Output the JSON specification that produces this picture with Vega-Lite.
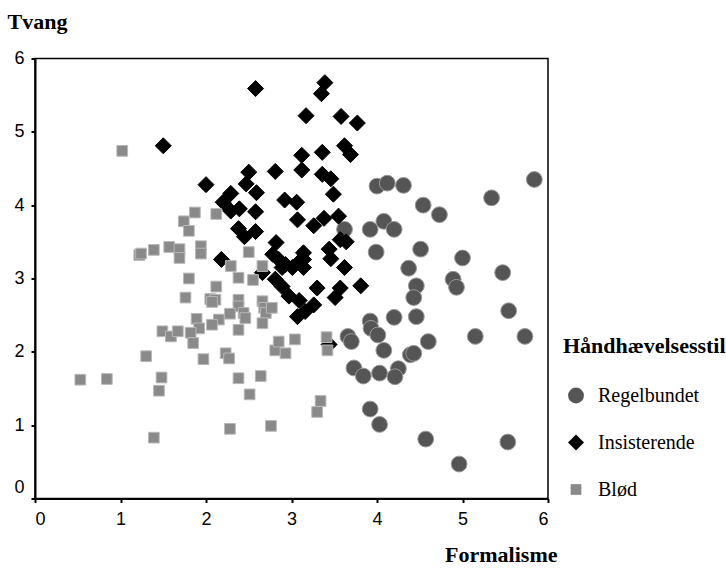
{
  "$schema": "https://vega.github.io/schema/vega-lite/v6.json",
  "width": 513,
  "height": 440,
  "autosize": {"type": "none"},
  "padding": {"left": 35, "top": 58.5, "right": 178, "bottom": 69.5},
  "background": "white",
  "config": {
    "view": {"stroke": "#000000", "strokeWidth": 1.5},
    "axis": {"grid": false, "domainColor": "#000000", "domainWidth": 2, "tickColor": "#000000", "tickWidth": 2, "tickSize": 4, "labelFont": "Liberation Sans", "labelFontSize": 18, "labelColor": "#000000", "titleFont": "Liberation Serif", "titleFontSize": 22, "titleFontWeight": "bold", "titleColor": "#000000"}
  },
  "data": {
    "values": [
      {"f": 5.84, "t": 4.35, "s": "Regelbundet"},
      {"f": 5.34, "t": 4.10, "s": "Regelbundet"},
      {"f": 4.00, "t": 4.26, "s": "Regelbundet"},
      {"f": 4.12, "t": 4.30, "s": "Regelbundet"},
      {"f": 4.31, "t": 4.27, "s": "Regelbundet"},
      {"f": 4.54, "t": 4.00, "s": "Regelbundet"},
      {"f": 4.73, "t": 3.87, "s": "Regelbundet"},
      {"f": 3.62, "t": 3.67, "s": "Regelbundet"},
      {"f": 3.92, "t": 3.67, "s": "Regelbundet"},
      {"f": 4.08, "t": 3.78, "s": "Regelbundet"},
      {"f": 4.20, "t": 3.67, "s": "Regelbundet"},
      {"f": 3.99, "t": 3.36, "s": "Regelbundet"},
      {"f": 4.51, "t": 3.40, "s": "Regelbundet"},
      {"f": 5.00, "t": 3.28, "s": "Regelbundet"},
      {"f": 4.37, "t": 3.14, "s": "Regelbundet"},
      {"f": 5.47, "t": 3.08, "s": "Regelbundet"},
      {"f": 4.89, "t": 2.99, "s": "Regelbundet"},
      {"f": 4.93, "t": 2.88, "s": "Regelbundet"},
      {"f": 4.46, "t": 2.90, "s": "Regelbundet"},
      {"f": 4.43, "t": 2.74, "s": "Regelbundet"},
      {"f": 5.54, "t": 2.56, "s": "Regelbundet"},
      {"f": 4.46, "t": 2.48, "s": "Regelbundet"},
      {"f": 4.20, "t": 2.47, "s": "Regelbundet"},
      {"f": 3.92, "t": 2.42, "s": "Regelbundet"},
      {"f": 3.93, "t": 2.32, "s": "Regelbundet"},
      {"f": 4.01, "t": 2.23, "s": "Regelbundet"},
      {"f": 3.66, "t": 2.21, "s": "Regelbundet"},
      {"f": 3.70, "t": 2.14, "s": "Regelbundet"},
      {"f": 4.08, "t": 2.02, "s": "Regelbundet"},
      {"f": 4.60, "t": 2.14, "s": "Regelbundet"},
      {"f": 5.15, "t": 2.21, "s": "Regelbundet"},
      {"f": 5.73, "t": 2.21, "s": "Regelbundet"},
      {"f": 4.39, "t": 1.96, "s": "Regelbundet"},
      {"f": 4.43, "t": 1.98, "s": "Regelbundet"},
      {"f": 3.73, "t": 1.78, "s": "Regelbundet"},
      {"f": 3.84, "t": 1.67, "s": "Regelbundet"},
      {"f": 4.03, "t": 1.71, "s": "Regelbundet"},
      {"f": 4.25, "t": 1.77, "s": "Regelbundet"},
      {"f": 4.21, "t": 1.66, "s": "Regelbundet"},
      {"f": 3.92, "t": 1.22, "s": "Regelbundet"},
      {"f": 4.03, "t": 1.01, "s": "Regelbundet"},
      {"f": 4.57, "t": 0.81, "s": "Regelbundet"},
      {"f": 5.53, "t": 0.77, "s": "Regelbundet"},
      {"f": 4.96, "t": 0.47, "s": "Regelbundet"},
      {"f": 3.39, "t": 5.67, "s": "Insisterende"},
      {"f": 3.35, "t": 5.52, "s": "Insisterende"},
      {"f": 3.17, "t": 5.22, "s": "Insisterende"},
      {"f": 3.58, "t": 5.21, "s": "Insisterende"},
      {"f": 3.77, "t": 5.12, "s": "Insisterende"},
      {"f": 2.58, "t": 5.59, "s": "Insisterende"},
      {"f": 1.50, "t": 4.81, "s": "Insisterende"},
      {"f": 3.12, "t": 4.68, "s": "Insisterende"},
      {"f": 3.36, "t": 4.72, "s": "Insisterende"},
      {"f": 3.62, "t": 4.81, "s": "Insisterende"},
      {"f": 3.69, "t": 4.69, "s": "Insisterende"},
      {"f": 3.12, "t": 4.48, "s": "Insisterende"},
      {"f": 3.36, "t": 4.42, "s": "Insisterende"},
      {"f": 3.46, "t": 4.36, "s": "Insisterende"},
      {"f": 3.49, "t": 4.15, "s": "Insisterende"},
      {"f": 2.00, "t": 4.28, "s": "Insisterende"},
      {"f": 2.50, "t": 4.45, "s": "Insisterende"},
      {"f": 2.47, "t": 4.29, "s": "Insisterende"},
      {"f": 2.81, "t": 4.46, "s": "Insisterende"},
      {"f": 2.29, "t": 4.16, "s": "Insisterende"},
      {"f": 2.59, "t": 4.17, "s": "Insisterende"},
      {"f": 2.20, "t": 4.04, "s": "Insisterende"},
      {"f": 2.29, "t": 3.92, "s": "Insisterende"},
      {"f": 2.39, "t": 3.95, "s": "Insisterende"},
      {"f": 2.58, "t": 3.91, "s": "Insisterende"},
      {"f": 2.92, "t": 4.07, "s": "Insisterende"},
      {"f": 3.06, "t": 4.04, "s": "Insisterende"},
      {"f": 3.07, "t": 3.80, "s": "Insisterende"},
      {"f": 3.26, "t": 3.72, "s": "Insisterende"},
      {"f": 3.38, "t": 3.82, "s": "Insisterende"},
      {"f": 3.55, "t": 3.85, "s": "Insisterende"},
      {"f": 2.38, "t": 3.68, "s": "Insisterende"},
      {"f": 2.45, "t": 3.57, "s": "Insisterende"},
      {"f": 2.58, "t": 3.64, "s": "Insisterende"},
      {"f": 2.18, "t": 3.26, "s": "Insisterende"},
      {"f": 2.82, "t": 3.49, "s": "Insisterende"},
      {"f": 2.78, "t": 3.33, "s": "Insisterende"},
      {"f": 2.85, "t": 3.26, "s": "Insisterende"},
      {"f": 2.93, "t": 3.19, "s": "Insisterende"},
      {"f": 2.89, "t": 3.15, "s": "Insisterende"},
      {"f": 3.01, "t": 3.15, "s": "Insisterende"},
      {"f": 3.10, "t": 3.24, "s": "Insisterende"},
      {"f": 3.14, "t": 3.35, "s": "Insisterende"},
      {"f": 3.14, "t": 3.26, "s": "Insisterende"},
      {"f": 3.14, "t": 3.15, "s": "Insisterende"},
      {"f": 3.44, "t": 3.40, "s": "Insisterende"},
      {"f": 3.46, "t": 3.27, "s": "Insisterende"},
      {"f": 3.57, "t": 3.53, "s": "Insisterende"},
      {"f": 3.64, "t": 3.50, "s": "Insisterende"},
      {"f": 3.62, "t": 3.15, "s": "Insisterende"},
      {"f": 2.66, "t": 3.08, "s": "Insisterende"},
      {"f": 2.81, "t": 2.99, "s": "Insisterende"},
      {"f": 2.89, "t": 2.89, "s": "Insisterende"},
      {"f": 2.97, "t": 2.76, "s": "Insisterende"},
      {"f": 3.30, "t": 2.87, "s": "Insisterende"},
      {"f": 3.57, "t": 2.87, "s": "Insisterende"},
      {"f": 3.51, "t": 2.74, "s": "Insisterende"},
      {"f": 3.81, "t": 2.90, "s": "Insisterende"},
      {"f": 3.09, "t": 2.70, "s": "Insisterende"},
      {"f": 3.26, "t": 2.64, "s": "Insisterende"},
      {"f": 3.16, "t": 2.55, "s": "Insisterende"},
      {"f": 3.07, "t": 2.48, "s": "Insisterende"},
      {"f": 3.44, "t": 2.10, "s": "Insisterende"},
      {"f": 1.02, "t": 4.74, "s": "Blød"},
      {"f": 1.87, "t": 3.90, "s": "Blød"},
      {"f": 2.12, "t": 3.88, "s": "Blød"},
      {"f": 1.74, "t": 3.78, "s": "Blød"},
      {"f": 1.80, "t": 3.65, "s": "Blød"},
      {"f": 1.22, "t": 3.32, "s": "Blød"},
      {"f": 1.24, "t": 3.34, "s": "Blød"},
      {"f": 1.39, "t": 3.39, "s": "Blød"},
      {"f": 1.57, "t": 3.43, "s": "Blød"},
      {"f": 1.69, "t": 3.40, "s": "Blød"},
      {"f": 1.69, "t": 3.28, "s": "Blød"},
      {"f": 1.94, "t": 3.44, "s": "Blød"},
      {"f": 1.94, "t": 3.34, "s": "Blød"},
      {"f": 2.50, "t": 3.36, "s": "Blød"},
      {"f": 1.80, "t": 3.00, "s": "Blød"},
      {"f": 1.76, "t": 2.74, "s": "Blød"},
      {"f": 2.12, "t": 2.89, "s": "Blød"},
      {"f": 2.29, "t": 3.17, "s": "Blød"},
      {"f": 2.38, "t": 3.01, "s": "Blød"},
      {"f": 2.55, "t": 2.98, "s": "Blød"},
      {"f": 2.66, "t": 3.17, "s": "Blød"},
      {"f": 2.05, "t": 2.72, "s": "Blød"},
      {"f": 2.11, "t": 2.71, "s": "Blød"},
      {"f": 2.07, "t": 2.68, "s": "Blød"},
      {"f": 2.38, "t": 2.71, "s": "Blød"},
      {"f": 2.38, "t": 2.62, "s": "Blød"},
      {"f": 2.44, "t": 2.53, "s": "Blød"},
      {"f": 2.46, "t": 2.46, "s": "Blød"},
      {"f": 2.66, "t": 2.69, "s": "Blød"},
      {"f": 2.68, "t": 2.60, "s": "Blød"},
      {"f": 2.70, "t": 2.53, "s": "Blød"},
      {"f": 2.77, "t": 2.60, "s": "Blød"},
      {"f": 2.66, "t": 2.39, "s": "Blød"},
      {"f": 2.28, "t": 2.52, "s": "Blød"},
      {"f": 2.15, "t": 2.44, "s": "Blød"},
      {"f": 2.07, "t": 2.37, "s": "Blød"},
      {"f": 1.89, "t": 2.45, "s": "Blød"},
      {"f": 1.92, "t": 2.32, "s": "Blød"},
      {"f": 1.82, "t": 2.26, "s": "Blød"},
      {"f": 1.49, "t": 2.28, "s": "Blød"},
      {"f": 1.59, "t": 2.21, "s": "Blød"},
      {"f": 1.67, "t": 2.28, "s": "Blød"},
      {"f": 1.85, "t": 2.12, "s": "Blød"},
      {"f": 2.38, "t": 2.30, "s": "Blød"},
      {"f": 1.30, "t": 1.94, "s": "Blød"},
      {"f": 1.97, "t": 1.90, "s": "Blød"},
      {"f": 2.23, "t": 1.98, "s": "Blød"},
      {"f": 2.27, "t": 1.91, "s": "Blød"},
      {"f": 2.81, "t": 2.02, "s": "Blød"},
      {"f": 2.85, "t": 2.14, "s": "Blød"},
      {"f": 2.93, "t": 1.98, "s": "Blød"},
      {"f": 3.04, "t": 2.17, "s": "Blød"},
      {"f": 3.41, "t": 2.20, "s": "Blød"},
      {"f": 3.42, "t": 2.02, "s": "Blød"},
      {"f": 0.53, "t": 1.62, "s": "Blød"},
      {"f": 0.84, "t": 1.63, "s": "Blød"},
      {"f": 1.48, "t": 1.65, "s": "Blød"},
      {"f": 1.45, "t": 1.47, "s": "Blød"},
      {"f": 2.38, "t": 1.64, "s": "Blød"},
      {"f": 2.64, "t": 1.67, "s": "Blød"},
      {"f": 2.51, "t": 1.42, "s": "Blød"},
      {"f": 3.34, "t": 1.33, "s": "Blød"},
      {"f": 3.30, "t": 1.18, "s": "Blød"},
      {"f": 1.39, "t": 0.83, "s": "Blød"},
      {"f": 2.28, "t": 0.95, "s": "Blød"},
      {"f": 2.76, "t": 0.99, "s": "Blød"}
    ]
  },
  "mark": {"type": "point", "filled": true, "opacity": 1, "strokeWidth": 1},
  "encoding": {
    "x": {
      "field": "f", "type": "quantitative", "title": "Formalisme",
      "scale": {"domain": [0, 6], "nice": false, "zero": false},
      "axis": {"values": [0, 1, 2, 3, 4, 5, 6], "labelPadding": 8, "titleAnchor": "end", "titleAlign": "right", "titleX": 522, "titleY": 63, "titleBaseline": "alphabetic"}
    },
    "y": {
      "field": "t", "type": "quantitative", "title": "Tvang",
      "scale": {"domain": [0, 6], "nice": false, "zero": false},
      "axis": {"values": [0, 1, 2, 3, 4, 5, 6], "labelPadding": 7, "labelOffset": {"condition": {"test": "datum.value === 0", "value": -11}, "value": 0}, "titleAngle": 0, "titleAlign": "left", "titleBaseline": "alphabetic", "titleX": -28, "titleY": -30}
    },
    "shape": {
      "field": "s", "type": "nominal",
      "scale": {"domain": ["Regelbundet", "Insisterende", "Blød"], "range": ["circle", "diamond", "square"]},
      "legend": {"title": "Håndhævelsesstil", "orient": "none", "legendX": 528, "legendY": 277, "titleFont": "Liberation Serif", "titleFontSize": 22, "titleFontWeight": "bold", "titleColor": "#000000", "titlePadding": 28, "labelFont": "Liberation Serif", "labelFontSize": 20, "labelColor": "#000000", "labelOffset": 12, "rowPadding": 27, "symbolOffset": 3, "symbolStrokeWidth": 0}
    },
    "color": {
      "field": "s", "type": "nominal",
      "scale": {"domain": ["Regelbundet", "Insisterende", "Blød"], "range": ["#555555", "#000000", "#8a8a8a"]}
    },
    "size": {
      "field": "s", "type": "nominal",
      "scale": {"type": "ordinal", "domain": ["Regelbundet", "Insisterende", "Blød"], "range": [250, 256, 115]}
    },
    "stroke": {
      "field": "s", "type": "nominal",
      "scale": {"domain": ["Regelbundet", "Insisterende", "Blød"], "range": ["#9a9a9a", "#000000", "#b8b8b8"]},
      "legend": null
    }
  }
}
